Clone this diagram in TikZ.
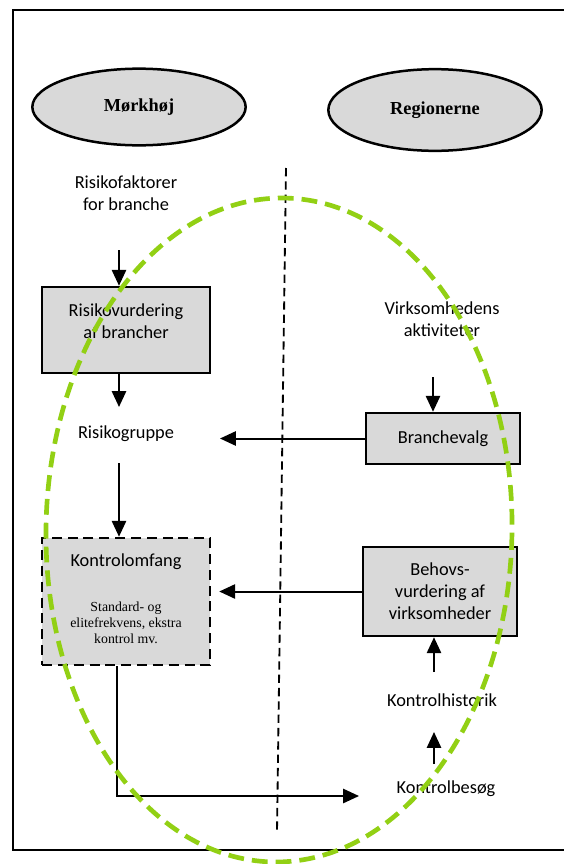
\documentclass[tikz,border=0pt]{standalone}
\usepackage{fontspec}
\setmainfont{Carlito}
\newfontfamily\timesfont{Liberation Serif}
\usepackage{xcolor}
\usetikzlibrary{arrows.meta,calc,shapes.geometric}

\definecolor{boxgray}{RGB}{217,217,217}
\definecolor{limegreen}{RGB}{146,208,20}

\begin{document}
\begin{tikzpicture}[x=0.6pt, y=-0.6pt,
    every node/.style={font=\fontsize{11}{13.2}\selectfont, align=center},
    party/.style={ellipse, draw, line width=1.5pt, fill=boxgray, font=\timesfont\bfseries\fontsize{11}{13}\selectfont},
    stepbox/.style={rectangle, draw, line width=1.5pt, fill=boxgray},
    arr/.style={-{Triangle[length=9.5pt,width=8.5pt]}, line width=1.2pt}]
    \useasboundingbox (0,0) rectangle (564,864);

    % Draw the open frame (its right side lies off the page)
    \draw[line width=1.2pt] (580,9.5) -- (12.6,9.5) -- (12.6,850) -- (580,850);

    % Draw the two parties as ellipses
    \node[party, minimum width=128pt, minimum height=46pt] (mork) at (139,107) {Mørkhøj};
    \node[party, minimum width=128pt, minimum height=49pt] (reg) at (435,110) {Regionerne};

    % Draw the dividing line between them
    \coordinate (divtop) at (286,168);
    \coordinate (divbot) at (277,832);
    \draw[line width=1.1pt, dash pattern=on 5pt off 3pt] (divtop) -- (divbot);

    % Left column
    \node (rf) at (126,193) {Risikofaktorer\\for branche};
    \node[stepbox, minimum width=100.8pt, minimum height=51.6pt] (rv) at (126,330) {};
    \node (rvtext) at (126,321.5) {Risikovurdering\\af brancher};
    \node (rg) at (126,434) {Risikogruppe};
    \node[stepbox, dash pattern=on 6pt off 3.5pt, minimum width=100.8pt, minimum height=76.2pt] (ko) at (126,601.5) {};
    \node (kotext) at (126,562) {Kontrolomfang};
    \node[font=\timesfont\fontsize{8.3}{9.6}\selectfont] (kosub) at (126,623) {Standard- og\\elitefrekvens, ekstra\\kontrol mv.};

    % Right column
    \node (va) at (442,319.5) {Virksomhedens\\aktiviteter};
    \node[stepbox, minimum width=92.4pt, minimum height=30.6pt] (bv) at (443,438.5) {Branchevalg};
    \node[stepbox, minimum width=92.4pt, minimum height=53.4pt] (bh) at (440,591.5) {Behovs-\\vurdering af\\virksomheder};
    \node (kh) at (442,700) {Kontrolhistorik};
    \node (kb) at (446,789) {Kontrolbesøg};

    % Arrows
    \draw[arr] ($(rf)+(-7,57)$) -- ($(rv.north)+(-7,0)$);
    \draw[arr] ($(rv.south)+(-7,0)$) -- ($(rg)+(-7,-27)$);
    \draw[arr] ($(rg)+(-7,29)$) -- ($(ko.north)+(-7,0)$);
    \draw[arr] ($(va)+(-9,57.5)$) -- ($(bv.north)+(-10,0)$);
    \draw[arr] (bv.west) -- ($(rg)+(94,4.5)$);
    \draw[arr, shorten >=4.8pt] (bh.west) -- (bh.west -| ko.east);
    \draw[arr] ($(kh)+(-8,-28)$) -- ($(bh.south)+(-6,0)$);
    \draw[arr] ($(kb)+(-12,-25)$) -- ($(kh)+(-8,32)$);
    \draw[arr] ($(ko.south)+(-9,0)$) |- ($(kb)+(-87,7)$);

    % Green dashed ring on top
    \draw[limegreen, line width=2.8pt, dash pattern=on 9.5pt off 4.8pt, rotate around={-1:(279,530)}]
        (279,530) ellipse [x radius=233, y radius=332];
\end{tikzpicture}
\end{document}
